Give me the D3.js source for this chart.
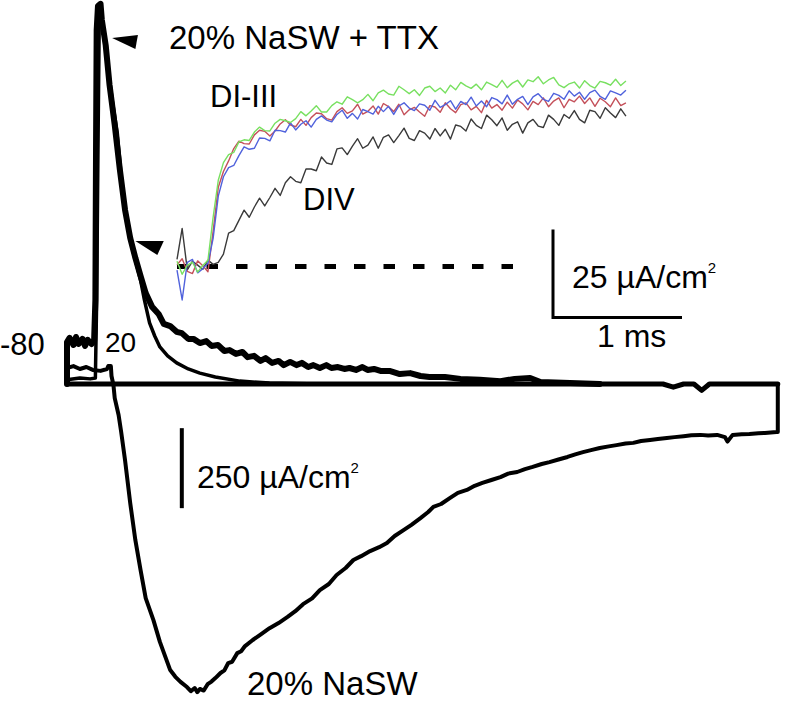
<!DOCTYPE html>
<html>
<head>
<meta charset="utf-8">
<script src="https://cdn.jsdelivr.net/npm/d3@7"></script>
<style>
body { margin: 0; background: #fff; }
text { font-family: Arial, "Liberation Sans", sans-serif; fill: #000; }
</style>
</head>
<body>
<div id="chart"></div>
<script>
// main traces, [time (ms), current (uA/cm2)]
let ttx_slow = [[0, 0], [0, 131], [0.02, 144], [0.05, 122], [0.07, 147], [0.09, 125], [0.12, 141], [0.14, 119],
    [0.16, 138], [0.19, 125], [0.21, 134], [0.22, 263], [0.225, 731], [0.23, 1106], [0.24, 1181], [0.26, 1188],
    [0.27, 1138], [0.30, 1059], [0.33, 934], [0.37, 809], [0.41, 669], [0.45, 544], [0.49, 456], [0.53, 394],
    [0.57, 338], [0.61, 284], [0.66, 241], [0.71, 219], [0.75, 188], [0.80, 181], [0.85, 163], [0.89, 159],
    [0.94, 141], [0.98, 141], [1.03, 128], [1.08, 134], [1.12, 119], [1.17, 122], [1.22, 103], [1.26, 106],
    [1.31, 94], [1.36, 100], [1.40, 84], [1.45, 88], [1.50, 72], [1.54, 81], [1.59, 66], [1.64, 72], [1.68, 59],
    [1.73, 69], [1.78, 59], [1.82, 66], [1.87, 53], [1.91, 59], [1.96, 50], [2.01, 59], [2.05, 50], [2.10, 53],
    [2.15, 47], [2.19, 50], [2.24, 44], [2.29, 53], [2.33, 44], [2.38, 47], [2.43, 41], [2.50, 41], [2.58, 31],
    [2.66, 34], [2.74, 25], [2.81, 22], [2.93, 22], [3.05, 16], [3.20, 13], [3.36, 9], [3.47, 16], [3.59, 19],
    [3.67, 6], [3.90, 3], [4.13, 0]];

let ttx_fast = [[0, 13], [0.10, 19], [0.18, 16], [0.22, 19], [0.23, 263], [0.24, 731], [0.25, 1138], [0.26, 1175],
    [0.28, 1106], [0.31, 1013], [0.35, 888], [0.39, 784], [0.43, 606], [0.47, 497], [0.51, 419], [0.57, 325],
    [0.60, 263], [0.64, 191], [0.68, 150], [0.72, 116], [0.78, 88], [0.85, 66], [0.94, 47], [1.03, 34],
    [1.15, 22], [1.34, 9], [1.57, 3], [1.96, 0]];

let nasw = [[0, 50], [0.05, 56], [0.10, 47], [0.15, 53], [0.20, 44], [0.26, 41], [0.31, 47], [0.32, 56],
    [0.34, 56], [0.345, 25], [0.36, -3], [0.37, -44], [0.40, -97], [0.42, -150], [0.45, -238], [0.49, -372],
    [0.53, -488], [0.57, -581], [0.61, -669], [0.67, -738], [0.72, -806], [0.80, -894], [0.84, -915],
    [0.88, -931], [0.93, -947], [0.96, -960], [0.99, -950], [1.01, -963], [1.03, -953], [1.06, -958],
    [1.09, -938], [1.12, -930], [1.15, -919], [1.19, -903], [1.22, -895], [1.25, -872], [1.28, -868],
    [1.32, -841], [1.35, -835], [1.38, -819], [1.44, -800], [1.50, -783], [1.57, -763], [1.64, -747],
    [1.71, -728], [1.77, -710], [1.83, -688], [1.90, -670], [1.96, -644], [2.03, -625], [2.09, -597],
    [2.16, -575], [2.22, -550], [2.28, -538], [2.35, -522], [2.42, -510], [2.48, -497], [2.54, -475],
    [2.60, -459], [2.67, -440], [2.74, -419], [2.80, -400], [2.84, -384], [2.90, -375], [2.97, -356],
    [3.03, -340], [3.10, -331], [3.16, -318], [3.22, -309], [3.29, -300], [3.36, -291], [3.42, -280],
    [3.49, -275], [3.55, -266], [3.61, -259], [3.68, -250], [3.74, -244], [3.81, -236], [3.88, -228],
    [3.94, -220], [4.00, -213], [4.07, -206], [4.13, -200], [4.20, -195], [4.26, -191], [4.33, -186],
    [4.39, -184], [4.45, -178], [4.52, -175], [4.58, -172], [4.65, -169], [4.71, -166], [4.78, -163],
    [4.84, -160], [4.91, -159], [4.97, -161], [5.04, -159], [5.10, -166], [5.12, -180], [5.16, -159],
    [5.23, -157], [5.29, -156], [5.36, -154], [5.41, -153], [5.50, -150], [5.51, -150], [5.51, 0]];

let zero_line = [[0, 0], [4.62, 0], [4.70, -10], [4.78, 0], [4.86, 0], [4.92, -20], [4.98, 0], [5.51, 0]];

// inset, one value every 0.04 ms
let inset_dt = 0.04;
let di_green = [1.5, -2.2, 0.4, 1.2, -1.6, 0.3, 1.8, 14.0, 24.5, 29.5,
    31.8, 32.4, 35.4, 36.0, 35.8, 38.2, 39.6, 38.6, 38.5, 40.7,
    41.8, 41.4, 40.9, 42.0, 44.0, 42.8, 44.2, 45.7, 43.9, 43.9,
    45.7, 46.8, 46.1, 48.2, 47.4, 46.5, 47.4, 48.9, 47.1, 49.3,
    50.1, 49.0, 48.7, 51.2, 50.2, 49.1, 50.2, 48.6, 50.7, 51.2,
    49.7, 50.7, 49.3, 51.5, 50.2, 52.3, 51.3, 50.6, 51.8, 50.2,
    52.4, 51.7, 50.9, 52.9, 50.8, 52.1, 52.9, 51.0, 53.0, 52.5,
    53.9, 51.9, 53.0, 53.7, 51.6, 50.8, 51.9, 52.4, 50.7, 52.8,
    51.4, 50.7, 52.6, 52.2, 51.5, 53.2, 51.4, 52.7];
let di_red = [0.5, 2.2, -1.4, -2.0, 1.6, 0.2, -1.5, 10.0, 22.5, 27.0,
    30.0, 33.5, 35.6, 34.9, 34.8, 37.4, 38.7, 38.4, 37.1, 38.5,
    40.5, 41.7, 40.2, 39.7, 41.8, 40.1, 42.3, 43.6, 43.4, 42.0,
    41.6, 44.0, 45.1, 43.5, 44.2, 46.1, 43.3, 44.1, 45.6, 43.3,
    46.3, 45.4, 44.0, 46.1, 43.1, 44.5, 45.2, 43.9, 42.7, 45.7,
    45.3, 43.8, 46.5, 44.8, 43.7, 46.0, 46.5, 44.5, 45.5, 43.7,
    47.2, 45.0, 46.0, 44.4, 46.7, 45.0, 47.3, 46.2, 44.5, 46.9,
    46.0, 47.9, 45.4, 47.0, 47.9, 45.1, 47.5, 46.8, 48.4, 46.3,
    47.9, 45.5, 47.8, 46.8, 45.4, 47.9, 45.7, 46.5];
let di_blue = [-1.0, -9.5, 1.2, 2.0, -1.8, -0.6, 0.9, 8.0, 20.0, 25.5,
    28.1, 28.7, 31.5, 34.0, 33.3, 33.6, 36.5, 36.4, 35.7, 38.7,
    38.6, 38.2, 40.8, 38.8, 40.4, 41.4, 39.6, 41.8, 42.8, 41.6,
    41.1, 43.2, 44.4, 42.1, 43.5, 41.9, 44.6, 44.0, 43.3, 45.5,
    44.0, 45.5, 43.2, 45.6, 46.5, 45.0, 44.3, 46.2, 45.8, 44.4,
    47.2, 45.2, 46.0, 47.1, 44.7, 46.9, 46.0, 48.1, 45.6, 47.0,
    45.4, 48.0, 47.4, 46.2, 48.7, 46.1, 47.5, 48.3, 46.0, 48.2,
    49.1, 47.5, 46.9, 49.2, 48.6, 47.5, 49.9, 48.4, 49.5, 47.5,
    49.4, 50.1, 48.3, 47.5, 49.9, 49.3, 48.7, 50.1];
let div_black = [2.0, 10.8, -1.0, 1.5, 0.4, -0.8, 1.8, 0.6, 1.2, 3.5,
    9.5, 10.2, 13.1, 16.0, 14.0, 16.9, 19.4, 17.2, 19.6, 22.2,
    20.2, 23.8, 25.5, 24.2, 23.8, 27.7, 27.7, 27.2, 31.1, 29.4,
    29.0, 33.4, 33.7, 31.8, 34.2, 36.3, 33.6, 34.5, 36.8, 33.6,
    36.7, 37.4, 35.2, 37.2, 39.3, 36.4, 35.8, 38.6, 37.9, 36.2,
    39.2, 37.1, 39.0, 36.2, 40.2, 39.8, 38.5, 41.9, 40.1, 39.2,
    43.0, 41.7, 40.0, 42.2, 38.7, 40.4, 41.1, 37.9, 40.8, 41.8,
    39.9, 39.5, 43.0, 41.8, 40.1, 43.2, 42.1, 44.3, 41.8, 40.8,
    44.4, 44.0, 42.1, 45.1, 43.6, 42.3, 44.8, 42.7];
let inset_baseline_end = 2.61;

// arrowheads, main trace coords
let arrows = [
    [[0.35, 1081], [0.55, 1091], [0.53, 1047]],
    [[0.53, 447], [0.75, 447], [0.70, 403]]
];

let svg = d3.select("#chart")
    .append("svg")
    .attr("width", 785)
    .attr("height", 701)
    .style("background", "#fff");

let x = d3.scaleLinear().domain([0, 5.5]).range([67, 776.5]);
let y = d3.scaleLinear().domain([0, 1000]).range([384, 64]);
let xi = d3.scaleLinear().domain([0, 3.5]).range([177, 628.5]);
let yi = d3.scaleLinear().domain([0, 25]).range([266.5, 178.5]);

let line = d3.line().x(d => x(d[0])).y(d => y(d[1]));
let inset_line = d3.line().x((d, i) => xi(i * inset_dt)).y(d => yi(d));

let main = svg.append("g")
    .attr("fill", "none")
    .attr("stroke", "#000")
    .attr("stroke-linejoin", "round")
    .attr("stroke-linecap", "round");

main.append("path").attr("d", line(zero_line)).attr("stroke-width", 5);
main.append("path").attr("d", line(ttx_fast)).attr("stroke-width", 3.5);
main.append("path").attr("d", line(ttx_slow)).attr("stroke-width", 6);
main.append("path").attr("d", line(nasw)).attr("stroke-width", 4);

svg.append("g")
    .selectAll("path")
    .data(arrows)
    .join("path")
    .attr("d", d => line(d) + "Z")
    .attr("fill", "#000");

// inset
svg.append("line")
    .attr("x1", xi(0))
    .attr("x2", xi(inset_baseline_end))
    .attr("y1", yi(0))
    .attr("y2", yi(0))
    .attr("stroke", "#000")
    .attr("stroke-width", 5)
    .attr("stroke-dasharray", "11.5,18");

let inset = svg.append("g")
    .attr("fill", "none")
    .attr("stroke-width", 1.4)
    .attr("stroke-linejoin", "round");

let inset_traces = [
    {data: div_black, color: "#3a3a3a"},
    {data: di_red, color: "#c4505a"},
    {data: di_blue, color: "#5062dc"},
    {data: di_green, color: "#78e060"}
];
inset.selectAll("path")
    .data(inset_traces)
    .join("path")
    .attr("d", d => inset_line(d.data))
    .attr("stroke", d => d.color);

// scale bars
let bars = svg.append("g").attr("stroke", "#000").attr("stroke-width", 3);
let bx = 553, by = 317.5;
bars.append("path")
    .attr("fill", "none")
    .attr("d", `M${bx},${by - (yi(0) - yi(25))}V${by}H${bx + xi(1) - xi(0)}`);
let mx = x(0.89), my = y(-138);
bars.append("line")
    .attr("x1", mx).attr("x2", mx)
    .attr("y1", my).attr("y2", my + y(0) - y(250))
    .attr("stroke-width", 4);

// labels
let labels = [
    {text: "20% NaSW + TTX", x: 169, y: 49, size: 33},
    {text: "DI-III", x: 210, y: 107, size: 31},
    {text: "DIV", x: 303, y: 210, size: 31},
    {text: "-80", x: 0, y: 355, size: 31},
    {text: "20", x: 105, y: 352, size: 28},
    {text: "20% NaSW", x: 247, y: 695, size: 33},
    {text: "1 ms", x: 597, y: 347, size: 32}
];
svg.append("g")
    .selectAll("text")
    .data(labels)
    .join("text")
    .attr("x", d => d.x)
    .attr("y", d => d.y)
    .attr("font-size", d => d.size)
    .text(d => d.text);

let units = [
    {text: "25 \u00b5A/cm", x: 572, y: 288},
    {text: "250 \u00b5A/cm", x: 197, y: 488}
];
let ut = svg.append("g")
    .selectAll("text")
    .data(units)
    .join("text")
    .attr("x", d => d.x)
    .attr("y", d => d.y)
    .attr("font-size", 32);
ut.append("tspan").text(d => d.text);
ut.append("tspan").attr("font-size", 15).attr("dy", -15).text("2");
</script>
</body>
</html>
